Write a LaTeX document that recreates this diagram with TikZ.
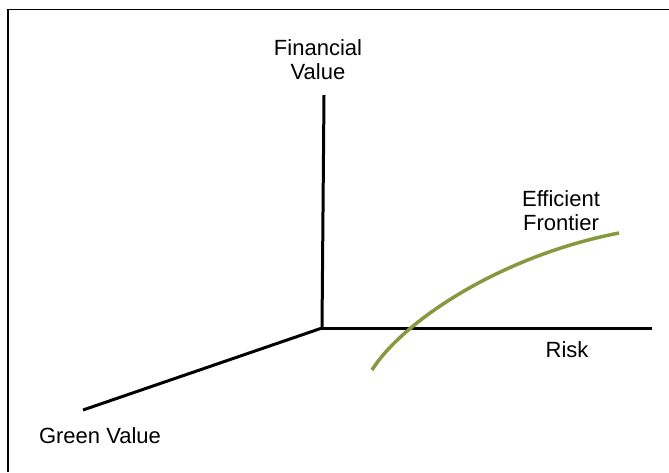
\documentclass[tikz,border=0pt]{standalone}
\usepackage{fontspec}
\setmainfont{Liberation Sans}
\definecolor{frontier}{RGB}{134,153,64}
\begin{document}
\begin{tikzpicture}[x=1pt,y=-1pt,
  axis/.style={line width=3pt,black},
  lbl/.style={font=\fontsize{22}{23.5}\selectfont,inner sep=0pt,align=center},
  frontierline/.style={line width=3.5pt,frontier}]
\useasboundingbox (0,0) rectangle (669,472);
\fill[white] (0,0) rectangle (669,472);
% frame (top and left)
\draw[line width=1.3pt] (669,9.5) -- (8,9.5) -- (8,472);
% axes
\coordinate (O) at (322,328);
\coordinate (ytop) at (324,95);
\coordinate (xend) at (652,328);
\coordinate (zend) at (83,410);
\draw[axis] (ytop) -- (O);
\draw[axis] (O) -- (xend);
\draw[axis] (O) -- (zend);
% efficient frontier curve
\coordinate (fs) at (372,370);
\coordinate (fe) at (619,233);
\draw[frontierline] (fs) .. controls (402,322) and (500,256) .. (fe);
% labels
\node[lbl,anchor=base] (fin) at (318,79) {Financial\\Value};
\node[lbl,anchor=base] (eff) at (561,230) {Efficient\\Frontier};
\node[lbl,anchor=base] (risk) at (567,357) {Risk};
\node[lbl,anchor=base] (green) at (100,443) {Green Value};
\end{tikzpicture}
\end{document}
